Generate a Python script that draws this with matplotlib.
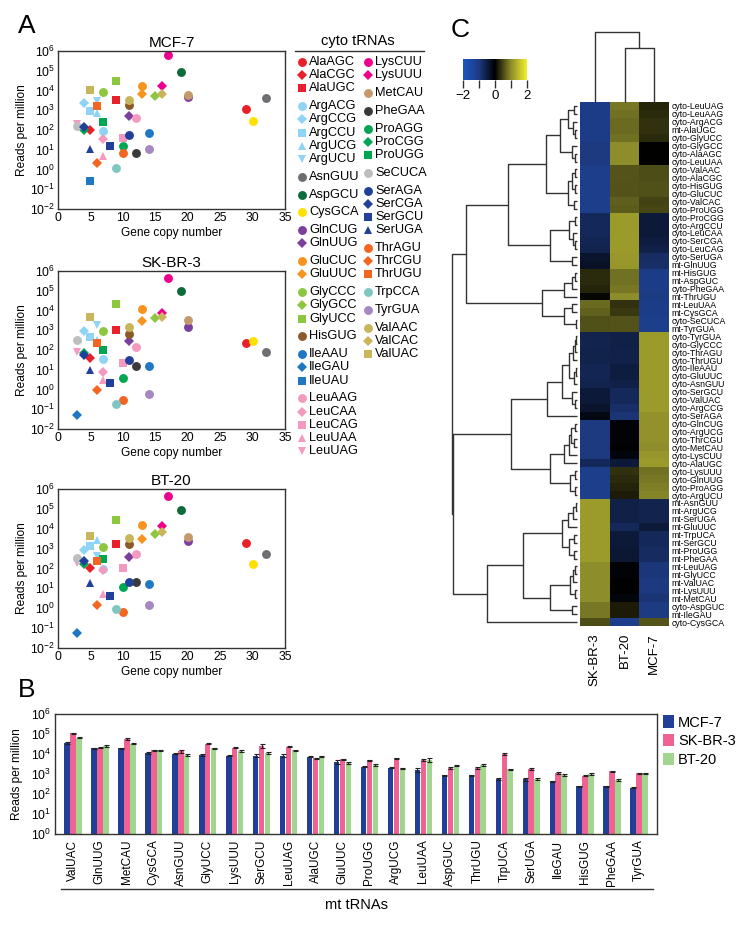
import numpy as np
import matplotlib
matplotlib.use('Agg')
import matplotlib.pyplot as plt
from matplotlib.colors import LinearSegmentedColormap
from matplotlib.ticker import FuncFormatter

plt.rcParams['font.family'] = ['Liberation Sans', 'DejaVu Sans']
plt.rcParams['mathtext.default'] = 'regular'
plt.rcParams['axes.unicode_minus'] = False

W, H = 753, 925

#---------------- panel A data ----------------#
names = ['AlaAGC', 'AlaCGC', 'AlaUGC', 'ArgACG', 'ArgCCG', 'ArgCCU', 'ArgUCG', 'ArgUCU',
         'AsnGUU', 'AspGCU', 'CysGCA', 'GlnCUG', 'GlnUUG', 'GluCUC', 'GluUUC',
         'GlyCCC', 'GlyGCC', 'GlyUCC', 'HisGUG', 'IleAAU', 'IleGAU', 'IleUAU',
         'LeuAAG', 'LeuCAA', 'LeuCAG', 'LeuUAA', 'LeuUAG', 'LysCUU', 'LysUUU',
         'MetCAU', 'PheGAA', 'ProAGG', 'ProCGG', 'ProUGG', 'SeCUCA',
         'SerAGA', 'SerCGA', 'SerGCU', 'SerUGA', 'ThrAGU', 'ThrCGU', 'ThrUGU',
         'TrpCCA', 'TyrGUA', 'ValAAC', 'ValCAC', 'ValUAC']
copies = [29, 5, 9, 7, 4, 5, 6, 6, 32, 19, 30, 20, 11, 13, 13, 7, 15, 9, 11, 14, 3, 5,
          12, 7, 10, 7, 3, 17, 16, 20, 12, 10, 4, 7, 3, 11, 4, 8, 5, 10, 6, 6, 9, 14, 11, 16, 5]
nan = np.nan
mcf7 = [1200, 105, 3500, 90, 2200, 900, 750, 3000, 4000, 87000, 290, 4500, 520, 17000, 7000,
        8000, 5000, 32000, 1800, 68, nan, 0.25, 390, 34, 40, 4.6, 200, 660000, 16000,
        6000, 6.6, 16, 100, 260, 160, 56, 140, 15, 11, 7.2, 2.2, 1700, 1.2, 11.5, 3200, 7000, 10500]
skbr3 = [220, 40, 1000, 35, 930, 470, 320, 1900, 80, 98000, 300, 1400, 280, 12000, 3000,
         940, 4000, 22000, 650, 16, 0.049, nan, 135, 8, 21, 3.1, 80, 440000, 7400,
         3400, 16, 3.7, 68, 100, 320, 33, 58, 2.2, 10, 0.28, 0.9, 220, 0.18, 0.6, 1500, 4800, 4800]
bt20 = [2000, 108, 1700, 100, 850, 1400, 2700, 430, 560, 83000, 170, 2500, 400, 15000, 3200,
        1200, 5700, 29000, 1700, 17, 0.056, nan, 520, 85, 110, 5.5, 200, 450000, 13000,
        3900, 20, 12, 170, 290, 350, 21, 250, 4, 19, 0.68, 1.5, 230, 0.95, 1.4, 3500, 6900, 4100]

aa_colors = {'Ala': '#e8202a', 'Arg': '#8fd3f5', 'Asn': '#6d6e71', 'Asp': '#0b6b3a',
             'Cys': '#ffe000', 'Gln': '#7b3f9e', 'Glu': '#f7941d', 'Gly': '#8dc63f',
             'His': '#8b5a2b', 'Ile': '#1f78c1', 'Leu': '#f49ac1', 'Lys': '#ec008c',
             'Met': '#c49a6c', 'Phe': '#3a3a3a', 'Pro': '#00a651', 'SeC': '#bcbec0',
             'Ser': '#21409a', 'Thr': '#f26522', 'Trp': '#7fc6c3', 'Tyr': '#a687c4',
             'Val': '#c9b55b'}
marker_list = ['o', 'D', 's', '^', 'v']
marker_size = {'o': 6.4, 'D': 5.2, 's': 5.7, '^': 6.3, 'v': 6.3}

#---------------- panel B data ----------------#
mt_names = ['ValUAC', 'GlnUUG', 'MetCAU', 'CysGCA', 'AsnGUU', 'GlyUCC', 'LysUUU', 'SerGCU',
            'LeuUAG', 'AlaUGC', 'GluUUC', 'ProUGG', 'ArgUCG', 'LeuUAA', 'AspGUC', 'ThrUGU',
            'TrpUCA', 'SerUGA', 'IleGAU', 'HisGUG', 'PheGAA', 'TyrGUA']
mt_mcf = [36000, 19000, 19000, 11700, 10500, 9000, 8300, 8300, 8300, 7400, 4000, 2300,
          2100, 1650, 890, 890, 580, 540, 445, 250, 250, 205]
mt_sk = [107000, 21000, 55000, 15000, 13700, 33000, 21000, 25000, 23500, 6100, 5500, 4900,
         6100, 5200, 2100, 2100, 10000, 1850, 1100, 820, 1360, 1070]
mt_bt = [66000, 26000, 32000, 15000, 9300, 19000, 14000, 11000, 15000, 7700, 3600, 2800,
         1900, 5000, 2600, 2900, 1700, 580, 890, 1000, 500, 1070]
mt_mcf_err = [3000, 1200, 1500, 1200, 700, 700, 600, 1200, 1200, 400, 900, 150,
              200, 350, 50, 50, 60, 80, 25, 15, 15, 15]
mt_sk_err = [6000, 1500, 5000, 1500, 2500, 2500, 1500, 6000, 1500, 500, 400, 300,
             400, 500, 250, 250, 700, 200, 100, 50, 100, 100]
mt_bt_err = [4000, 3500, 2000, 800, 1000, 1200, 1000, 1300, 1000, 500, 400, 250,
             100, 1200, 150, 300, 150, 80, 80, 60, 60, 60]
bar_colors = ['#213f99', '#ef6291', '#a0d68f']

#---------------- panel C data ----------------#
hm_rows = ['cyto-LeuUAG', 'cyto-LeuAAG', 'cyto-ArgACG', 'mt-AlaUGC', 'cyto-GlyUCC',
           'cyto-GlyGCC', 'cyto-AlaAGC', 'cyto-LeuUAA', 'cyto-ValAAC', 'cyto-AlaCGC',
           'cyto-HisGUG', 'cyto-GluCUC', 'cyto-ValCAC', 'cyto-ProUGG', 'cyto-ProCGG',
           'cyto-ArgCCU', 'cyto-LeuCAA', 'cyto-SerCGA', 'cyto-LeuCAG', 'cyto-SerUGA',
           'mt-GlnUUG', 'mt-HisGUG', 'mt-AspGUC', 'cyto-PheGAA', 'mt-ThrUGU',
           'mt-LeuUAA', 'mt-CysGCA', 'cyto-SeCUCA', 'mt-TyrGUA', 'cyto-TyrGUA',
           'cyto-GlyCCC', 'cyto-ThrAGU', 'cyto-ThrUGU', 'cyto-IleAAU', 'cyto-GluUUC',
           'cyto-AsnGUU', 'cyto-SerGCU', 'cyto-ValUAC', 'cyto-ArgCCG', 'cyto-SerAGA',
           'cyto-GlnCUG', 'cyto-ArgUCG', 'cyto-ThrCGU', 'cyto-MetCAU', 'cyto-LysCUU',
           'cyto-AlaUGC', 'cyto-LysUUU', 'cyto-GlnUUG', 'cyto-ProAGG', 'cyto-ArgUCU',
           'mt-AsnGUU', 'mt-ArgUCG', 'mt-SerUGA', 'mt-GluUUC', 'mt-TrpUCA',
           'mt-SerGCU', 'mt-ProUGG', 'mt-PheGAA', 'mt-LeuUAG', 'mt-GlyUCC',
           'mt-ValUAC', 'mt-LysUUU', 'mt-MetCAU', 'cyto-AspGUC', 'mt-IleGAU', 'cyto-CysGCA']
hm_cols = ['SK-BR-3', 'BT-20', 'MCF-7']
z_sk = [-1.10, -1.10, -1.10, -1.10, -1.10, -1.00, -1.00, -1.00, -1.15, -1.15,
        -1.15, -1.15, -1.15, -1.15, -0.70, -0.70, -0.70, -0.65, -0.60, -0.35,
        -0.30, 0.30, 0.30, 0.25, 0.05, 0.75, 0.70, 0.57, 0.57, -0.60,
        -0.60, -0.58, -0.58, -0.65, -0.65, -0.60, -0.45, -0.45, -0.35, -0.15,
        -1.00, -1.00, -1.00, -1.00, -1.00, -0.70, -1.15, -1.15, -1.15, -1.15,
        1.15, 1.15, 1.15, 1.15, 1.15, 1.15, 1.15, 1.15, 1.00, 1.00,
        1.00, 1.00, 1.00, 0.85, 0.85, 0.55]
z_bt = [0.85, 0.80, 0.75, 0.75, 0.80, 1.00, 1.00, 1.00, 0.60, 0.60,
        0.58, 0.58, 0.68, 0.65, 1.15, 1.15, 1.15, 1.15, 1.15, 1.12,
        1.10, 0.80, 0.80, 0.85, 1.00, 0.35, 0.40, 0.58, 0.58, -0.55,
        -0.55, -0.57, -0.57, -0.50, -0.50, -0.55, -0.70, -0.70, -0.80, -0.90,
        -0.05, -0.05, -0.05, 0.00, -0.10, -0.45, 0.35, 0.30, 0.25, 0.20,
        -0.55, -0.55, -0.55, -0.70, -0.45, -0.45, -0.40, -0.40, -0.05, -0.05,
        0.00, 0.00, -0.10, 0.20, 0.20, -1.15]
z_mcf = [0.25, 0.30, 0.35, 0.35, 0.30, 0.00, 0.00, 0.00, 0.55, 0.55,
         0.57, 0.57, 0.47, 0.50, -0.45, -0.45, -0.45, -0.50, -0.55, -0.77,
         -0.80, -1.10, -1.10, -1.10, -1.05, -1.10, -1.10, -1.15, -1.15, 1.15,
         1.15, 1.15, 1.15, 1.15, 1.15, 1.15, 1.15, 1.15, 1.15, 1.05,
         1.05, 1.05, 1.05, 1.00, 1.10, 1.15, 0.80, 0.85, 0.90, 0.95,
         -0.60, -0.60, -0.60, -0.45, -0.70, -0.70, -0.75, -0.75, -0.95, -0.95,
         -1.00, -1.00, -0.90, -1.05, -1.05, 0.60]

# row tree: (height, left, right), leaves are row numbers
rows_1_8 = (17, (9, (3, 0, 1), (4, 2, (2, 3, 4))), (5, 5, (2, 6, 7)))
rows_9_14 = (9, (5, (2, 8, 9), (2, 10, 11)), (3, 12, 13))
rows_15_21 = (27, (8, (2, 14, 15), (4, 16, (2, 17, 18))), (5, 19, 20))
rows_22_29 = (35, (13, (5, (2, 21, 22), 23), 24), (13, (5, 25, 26), (1, 27, 28)))
clust_a = (111, (69, (31, rows_1_8, rows_9_14), rows_15_21), rows_22_29)
rows_30_40 = (30, (15, (8, (4, (2, (1, 29, 30), 31), 32), (3, (1, 33, 34), 35)),
                   (5, 36, (2, 37, 38))), 39)
rows_41_50 = (27, (13, (8, (6, (2, 40, 41), (3, 42, 43)), 44), 45),
              (7, (2, 46, 47), (2, 48, 49)))
rows_51_58 = (15, (9, (4, (1, 50, 51), 52), 53), (8, (3, 54, 55), (3, 56, 57)))
rows_59_65 = (27, (7, (4, (2, 58, 59), 60), (2, 61, 62)), (5, 63, 64))
clust_c = (124, (66, rows_30_40, rows_41_50), (90, (54, rows_51_58, rows_59_65), 65))
row_tree = (125, clust_a, clust_c)
col_tree = (70, 0, (54, 1, 2))

#---------------- figure ----------------#
fig = plt.figure(figsize=(W / 100, H / 100), dpi=100)


def px_axes(x0, y0, x1, y1):
    return fig.add_axes([x0 / W, 1 - y1 / H, (x1 - x0) / W, (y1 - y0) / H])


def pow10(v, pos):
    return r'$10^{%d}$' % int(round(np.log10(v)))


frame_col = '#333333'

# panel A scatters
for box, title, vals in [((58, 51, 285, 209), 'MCF-7', mcf7),
                         ((58, 271, 285, 429), 'SK-BR-3', skbr3),
                         ((58, 489, 285, 648), 'BT-20', bt20)]:
    ax = px_axes(*box)
    for i, nm in enumerate(names):
        grp = [n for n in names if n[:3] == nm[:3]]
        mk = marker_list[grp.index(nm)]
        ax.plot(copies[i], vals[i], marker=mk, ls='none', color=aa_colors[nm[:3]],
                ms=marker_size[mk], mew=0)
    ax.set_yscale('log')
    ax.set_ylim(1e-2, 1e6)
    ax.set_xlim(0, 35)
    ax.set_xticks(range(0, 36, 5))
    ax.set_yticks([10.0 ** k for k in range(-2, 7)])
    ax.yaxis.set_major_formatter(FuncFormatter(pow10))
    ax.minorticks_off()
    ax.tick_params(length=0, labelsize=8.8, pad=2)
    for s in ax.spines.values():
        s.set_color(frame_col)
        s.set_linewidth(1)
    ax.set_title(title, fontsize=11, pad=3)
    ax.set_ylabel('Reads per million', fontsize=8.6)
    ax.yaxis.set_label_coords(-0.13, 0.5)
    ax.set_xlabel('Gene copy number', fontsize=8.6, labelpad=2)

# panel B bars
axb = px_axes(55, 714, 657, 834)
xb = np.arange(len(mt_names))
for k, (vals, errs, lab) in enumerate([(mt_mcf, mt_mcf_err, 'MCF-7'),
                                       (mt_sk, mt_sk_err, 'SK-BR-3'),
                                       (mt_bt, mt_bt_err, 'BT-20')]):
    axb.bar(xb + (k - 1) * 0.22, vals, width=0.21, color=bar_colors[k], label=lab,
            yerr=errs, error_kw=dict(ecolor='#222222', elinewidth=0.8, capsize=1.8, capthick=0.8))
axb.set_yscale('log')
axb.set_ylim(1, 1e6)
axb.set_xlim(-0.66, len(mt_names) - 0.34)
axb.set_yticks([10.0 ** k for k in range(0, 7)])
axb.yaxis.set_major_formatter(FuncFormatter(pow10))
axb.minorticks_off()
axb.set_xticks(xb)
axb.set_xticklabels(mt_names, rotation=90, fontsize=8.5)
axb.tick_params(length=0, labelsize=8.8, pad=3)
axb.tick_params(axis='x', labelsize=8.5, pad=4)
for s in axb.spines.values():
    s.set_color(frame_col)
    s.set_linewidth(1)
axb.set_ylabel('Reads per million', fontsize=8.6)
axb.yaxis.set_label_coords(-0.053, 0.5)
axb.legend(loc='upper left', bbox_to_anchor=(1.008, 1.0), frameon=False, fontsize=10.5,
           handlelength=0.75, handleheight=0.9, handletextpad=0.25, labelspacing=0.32,
           borderaxespad=0, borderpad=0.1)

# panel C heatmap
cmap = LinearSegmentedColormap.from_list('by', [(0.0, '#1a56c4'), (0.25, '#1e3a80'),
                                                (0.5, '#000000'), (0.75, '#8c8c2c'),
                                                (1.0, '#f2f02a')])
z = np.column_stack([z_sk, z_bt, z_mcf])
axh = px_axes(580, 102, 669, 626)
axh.imshow(z, cmap=cmap, vmin=-2, vmax=2, aspect='auto', interpolation='nearest')
axh.set_yticks(range(len(hm_rows)))
axh.set_yticklabels(hm_rows, fontsize=6.3)
axh.yaxis.tick_right()
axh.set_xticks(range(3))
axh.set_xticklabels(hm_cols, rotation=90, fontsize=9.5)
axh.tick_params(length=0, pad=2)
axh.tick_params(axis='x', pad=5)
for s in axh.spines.values():
    s.set_visible(False)


def draw_tree(ax, node, vertical):
    if isinstance(node, int):
        return node, 0.0
    h, left, right = node
    pl, hl = draw_tree(ax, left, vertical)
    pr, hr = draw_tree(ax, right, vertical)
    hs = [hl, h, h, hr]
    ps = [pl, pl, pr, pr]
    if vertical:
        ax.plot(ps, hs, color='#333333', lw=1, clip_on=False, solid_capstyle='butt')
    else:
        ax.plot(hs, ps, color='#333333', lw=1, clip_on=False, solid_capstyle='butt')
    return (pl + pr) / 2, h


axr = px_axes(452, 102, 577, 626)
draw_tree(axr, row_tree, False)
axr.set_xlim(125, 0)
axr.set_ylim(len(hm_rows) - 0.5, -0.5)
axr.axis('off')

axc = px_axes(580, 32, 669, 102)
draw_tree(axc, col_tree, True)
axc.set_xlim(-0.5, 2.5)
axc.set_ylim(0, 70)
axc.axis('off')

cax = px_axes(463, 59, 527, 80)
cax.imshow(np.linspace(-2, 2, 256)[None, :], extent=[-2, 2, 0, 1], aspect='auto', cmap=cmap)
cax.set_yticks([])
cax.set_xticks([-2, -1, 0, 1, 2])
cax.set_xticklabels(['\u22122', '', '0', '', '2'], fontsize=9.5)
cax.tick_params(axis='x', length=6, width=1, color='#333333', pad=1)
for s in cax.spines.values():
    s.set_visible(False)

# overlay: legend of panel A, panel letters, mt tRNAs bracket
ov = px_axes(0, 0, W, H)
ov.set_xlim(0, W)
ov.set_ylim(H, 0)
ov.axis('off')
ov.patch.set_alpha(0)

ov.text(358, 41, 'cyto tRNAs', fontsize=10.5, ha='center', va='center')
ov.plot([295, 424], [51, 51], color='#333333', lw=1)
split = names.index('LysCUU')
for col, (x0, sub) in enumerate([(302, names[:split]), (368, names[split:])]):
    y = 62.0
    prev = None
    for nm in sub:
        if prev is not None:
            y += 13.2 + (4.6 if nm[:3] != prev[:3] else 0)
        grp = [n for n in names if n[:3] == nm[:3]]
        mk = marker_list[grp.index(nm)]
        ov.plot(x0, y, marker=mk, ls='none', color=aa_colors[nm[:3]], ms=marker_size[mk], mew=0)
        ov.text(x0 + 7, y, nm, fontsize=9.2, ha='left', va='center')
        prev = nm

ov.text(27, 26, 'A', fontsize=19, ha='center', va='center')
ov.text(460, 30, 'C', fontsize=19, ha='center', va='center')
ov.text(27, 690, 'B', fontsize=19, ha='center', va='center')
ov.plot([61, 653], [889, 889], color='#333333', lw=1)
ov.text(357, 905, 'mt tRNAs', fontsize=10.5, ha='center', va='center')

fig.savefig('out.png', dpi=100)
